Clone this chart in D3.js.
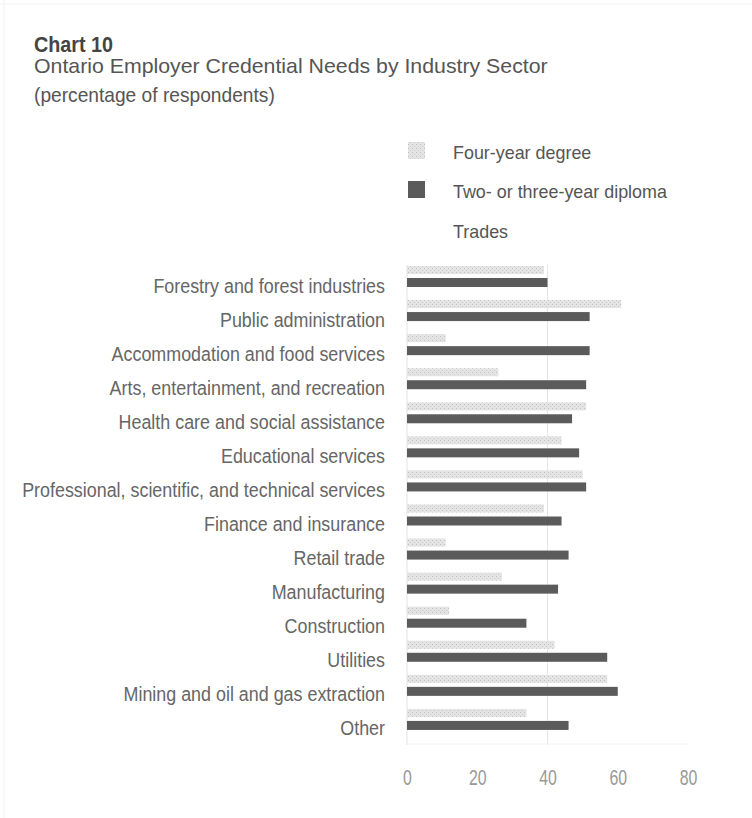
<!DOCTYPE html>
<html><head><meta charset="utf-8">
<script src="https://cdn.jsdelivr.net/npm/d3@7"></script>
<style>
body{margin:0;background:#fff;}
svg{display:block;}
text{font-family:"Liberation Sans",Arimo,Arial,sans-serif;}
</style></head>
<body>
<script>
const categories = ["Forestry and forest industries","Public administration","Accommodation and food services","Arts, entertainment, and recreation","Health care and social assistance","Educational services","Professional, scientific, and technical services","Finance and insurance","Retail trade","Manufacturing","Construction","Utilities","Mining and oil and gas extraction","Other"];
const fourYear = [39, 61, 11, 26, 51, 44, 50, 39, 11, 27, 12, 42, 57, 34];
const diploma  = [40, 52, 52, 51, 47, 49, 51, 44, 46, 43, 34, 57, 60, 46];
const seriesNames = ["Four-year degree","Two- or three-year diploma","Trades"];
const xTicks = [0, 20, 40, 60, 80];

const W = 752, H = 818;
const svg = d3.select("body").append("svg").attr("width", W).attr("height", H);

function measure(str, size, weight){
  const t = svg.append("text").attr("font-size",size).attr("font-weight",weight||"normal").text(str);
  const w = t.node().getComputedTextLength(); t.remove(); return w;
}
function ctext(g, x, y, str, size, sx, opts){
  opts = opts || {};
  return g.append("text")
    .attr("transform",`translate(${x},${y}) scale(${sx},1)`)
    .attr("font-size",size).attr("font-weight",opts.weight||"normal")
    .attr("text-anchor",opts.anchor||"start").attr("fill",opts.fill||"#555").text(str);
}

// faint scan frame
svg.append("line").attr("x1",4).attr("x2",4).attr("y1",0).attr("y2",H).attr("stroke","#f0f0f0");
svg.append("line").attr("x1",0).attr("x2",W).attr("y1",4).attr("y2",4).attr("stroke","#f0f0f0");

// titles
const sxT = 79 / measure("Chart 10", 22, "bold");
ctext(svg, 34, 52, "Chart 10", 22, sxT, {weight:"bold", fill:"#444"});
const sxS = 514 / measure("Ontario Employer Credential Needs by Industry Sector", 21);
ctext(svg, 34, 73, "Ontario Employer Credential Needs by Industry Sector", 21, sxS, {fill:"#555"});
const sxP = 241 / measure("(percentage of respondents)", 20);
ctext(svg, 34, 102, "(percentage of respondents)", 20, sxP, {fill:"#555"});

// legend
const defs = svg.append("defs");
const pat = defs.append("pattern").attr("id","stip").attr("width",4).attr("height",4).attr("patternUnits","userSpaceOnUse");
pat.append("rect").attr("width",4).attr("height",4).attr("fill","#e4e4e4");
pat.append("rect").attr("x",0).attr("y",0).attr("width",1).attr("height",1).attr("fill","#c0c0c0");
pat.append("rect").attr("x",2).attr("y",2).attr("width",1).attr("height",1).attr("fill","#cbcbcb");
const swatchFill = ["url(#stip)", "#5b5b5b", "#fff"];
const legendBase = [159, 198, 238];
const sxL = 214 / measure("Two- or three-year diploma", 19);
const lg = svg.append("g");
seriesNames.forEach((s,i)=>{
  lg.append("rect").attr("x",408).attr("y",legendBase[i]-17).attr("width",17).attr("height",17).attr("fill",swatchFill[i]);
  ctext(lg, 453, legendBase[i], s, 19, sxL, {fill:"#555"});
});

// scales
const x = d3.scaleLinear().domain([0,80]).range([407, 688]);
const y = d3.scaleBand().domain(categories).range([265, 742]).paddingInner(0).paddingOuter(0);

// gridlines
svg.append("line").attr("x1",x(40)).attr("x2",x(40)).attr("y1",265).attr("y2",745).attr("stroke","#e6e6e6");
svg.append("line").attr("x1",x(0)).attr("x2",x(0)).attr("y1",265).attr("y2",745).attr("stroke","#e2e2e2");
svg.append("line").attr("x1",x(0)).attr("x2",x(80)).attr("y1",744).attr("y2",744).attr("stroke","#f2f2f2");

// bars
svg.append("g").selectAll("rect").data(categories).join("rect")
  .attr("x", x(0)).attr("y", d=>y(d)+1)
  .attr("width", (d,i)=>x(fourYear[i])-x(0)).attr("height",8)
  .attr("fill","url(#stip)");
svg.append("g").selectAll("rect").data(categories).join("rect")
  .attr("x", x(0)).attr("y", d=>y(d)+13)
  .attr("width", (d,i)=>x(diploma[i])-x(0)).attr("height",9)
  .attr("fill","#5b5b5b");

// category labels
const sxC = 363 / measure("Professional, scientific, and technical services", 21);
const lab = svg.append("g");
categories.forEach(c=>{
  ctext(lab, 385, y(c)+27.5, c, 21, sxC, {anchor:"end", fill:"#666"});
});

// x axis
const ax = svg.append("g").attr("transform","translate(0,785)")
  .call(d3.axisBottom(x).tickValues(xTicks).tickSize(0).tickPadding(0));
ax.select(".domain").remove();
ax.selectAll("text").attr("font-size",22).attr("fill","#999").attr("dy","0")
  .attr("transform","scale(0.72,1)")
  .style("font-family",'"Liberation Sans",sans-serif');
</script>
</body></html>
